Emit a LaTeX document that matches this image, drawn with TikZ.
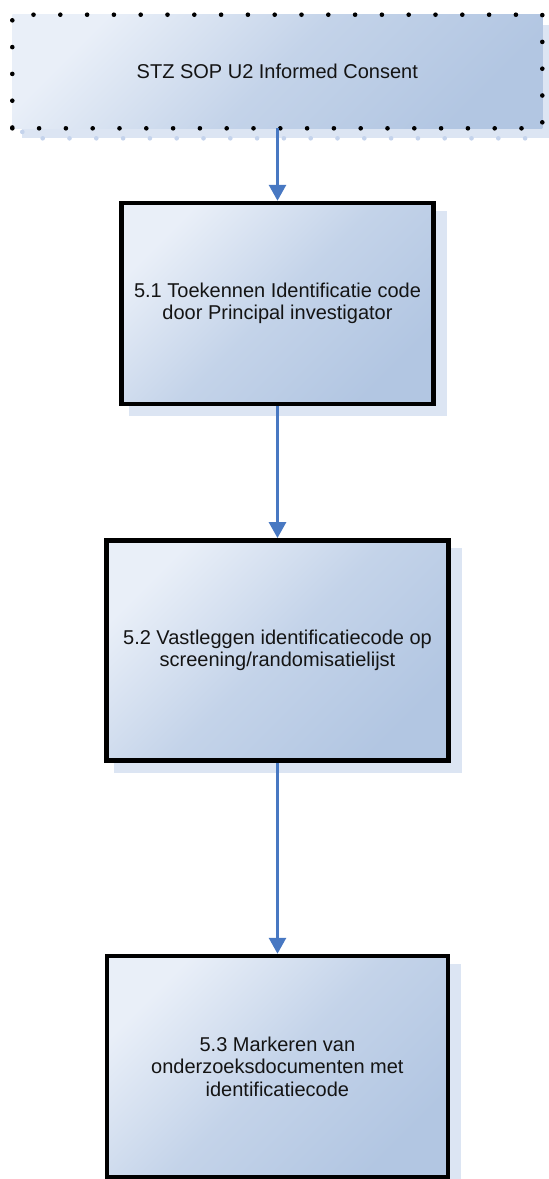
\documentclass[tikz,border=0pt]{standalone}
\usepackage{fontspec}
\setmainfont{Liberation Sans}
\usetikzlibrary{arrows.meta,backgrounds}
\definecolor{boxlight}{RGB}{233,239,248}
\definecolor{boxdark}{RGB}{178,198,226}
\definecolor{shadowblue}{RGB}{220,229,243}
\definecolor{shadowdot}{RGB}{196,211,236}
\definecolor{arrowblue}{RGB}{72,120,194}
\definecolor{textgray}{RGB}{20,20,20}
\begin{document}
\begin{tikzpicture}[x=1pt,y=-1pt,
  boxtext/.style={align=center, font=\fontsize{20}{22.5}\selectfont, text=textgray, inner sep=0pt},
  shadefill/.style={top color=boxlight, bottom color=boxdark, middle color=boxlight!32!boxdark, shading angle=45},
  stepbox/.style={rectangle, draw=black, line width=4.5pt, shadefill, boxtext},
  dotbox/.style={rectangle, draw=black, line width=4.6pt, dash pattern=on 0pt off 26.8pt, line cap=round, shadefill, boxtext, outer sep=0pt},
  shadowbox/.style={fill=shadowblue},
  flow/.style={draw=arrowblue, line width=3pt, -{Triangle[width=17pt,length=16pt]}}
]
\useasboundingbox (0,0) rectangle (549,1179);

\node[dotbox, minimum width=530pt, minimum height=113.6pt] (top) at (277.3,71.5) {STZ SOP U2 Informed Consent};
\node[stepbox, minimum width=312.4pt, minimum height=201pt] (b1) at (277.5,303.5) {5.1 Toekennen Identificatie code\\door Principal investigator};
\node[stepbox, minimum width=342.4pt, minimum height=220.4pt] (b2) at (277.5,650.5) {5.2 Vastleggen identificatiecode op\\screening/randomisatielijst};
\node[stepbox, minimum width=341.3pt, minimum height=221pt] (b3) at (277.4,1066.5) {5.3 Markeren van\\onderzoeksdocumenten met\\identificatiecode};

\begin{scope}[on background layer]
  \fill[shadowbox] ([shift={(10,10)}]top.north west) rectangle ([shift={(10,10)}]top.south east);
  \draw[shadowdot, line width=4.6pt, dash pattern=on 0pt off 26.8pt, line cap=round]
    ([shift={(10,10)}]top.north west) rectangle ([shift={(10,10)}]top.south east);
  \fill[shadowbox] ([shift={(10,10)}]b1.north west) rectangle ([shift={(11,10)}]b1.south east);
  \fill[shadowbox] ([shift={(10,10)}]b2.north west) rectangle ([shift={(11,10)}]b2.south east);
  \fill[shadowbox] ([shift={(10,10)}]b3.north west) rectangle ([shift={(11,10)}]b3.south east);
\end{scope}

\draw[flow] (top.south -| b1.north) -- (b1.north);
\draw[flow] (b1.south) -- (b2.north -| b1.south);
\draw[flow] (b2.south) -- (b3.north -| b2.south);
\end{tikzpicture}
\end{document}
